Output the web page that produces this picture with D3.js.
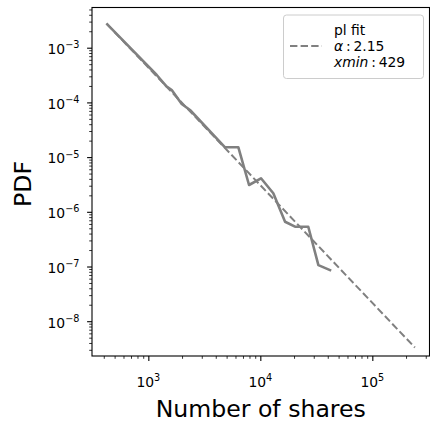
<!DOCTYPE html>
<html><head><meta charset="utf-8">
<script src="https://cdn.jsdelivr.net/npm/d3@7"></script>
<style>
body{margin:0;background:#fff;}
text{font-family:"DejaVu Sans",sans-serif;}
</style></head>
<body><svg id="c" width="430" height="427"></svg>
<script>
// empirical PDF (number of shares, pdf)
const shares = [430, 1189, 1298, 1439, 1618, 1987, 2355, 4842, 6367, 7930, 10140, 13060, 16630, 20400, 26800, 33000, 41900];
const pdf = [2.68e-3, 3.17e-4, 2.57e-4, 2.0e-4, 1.69e-4, 9.35e-5, 7.26e-5, 1.51e-5, 1.51e-5, 3.09e-6, 4.1e-6, 2.18e-6, 6.59e-7, 5.34e-7, 5.34e-7, 1.06e-7, 8.6e-8];
// power-law fit line endpoints
const fitX = [429, 240000];
const fitY = [2.68e-3, 3.3e-9];
const xMajor = [1e3, 1e4, 1e5];
const xMajorExp = ["3", "4", "5"];
const yMajor = [1e-3, 1e-4, 1e-5, 1e-6, 1e-7, 1e-8];
const yMajorExp = ["\u22123", "\u22124", "\u22125", "\u22126", "\u22127", "\u22128"];
const legendLines = ["pl fit", "\u03b1", "xmin"];
const alpha = "2.15", xmin = "429";

const svg = d3.select("#c");
const L = 92, T = 7.5, R = 429.5, B = 356;
const x = d3.scaleLog().domain([Math.pow(10, 2.497), Math.pow(10, 5.515)]).range([L, R + 0.5]);
const y = d3.scaleLog().domain([Math.pow(10, -8.636), Math.pow(10, -2.265)]).range([B, T]);

function minors(lo, hi) {
  const out = [];
  for (let e = Math.floor(Math.log10(lo)); e <= Math.ceil(Math.log10(hi)); e++)
    for (let m = 2; m <= 9; m++) { const v = m * Math.pow(10, e); if (v >= lo && v <= hi) out.push(v); }
  return out;
}
const xMin = minors(...x.domain()), yMin = minors(...y.domain());

const g = svg.append("g");
// minor ticks
g.append("g").attr("transform", `translate(0,${B})`)
  .call(d3.axisBottom(x).tickValues(xMin).tickSize(2.8).tickFormat(""))
  .call(s => { s.select(".domain").remove(); s.selectAll("line").attr("stroke", "#000").attr("stroke-width", 0.8); });
g.append("g").attr("transform", `translate(${L},0)`)
  .call(d3.axisLeft(y).tickValues(yMin).tickSize(2.8).tickFormat(""))
  .call(s => { s.select(".domain").remove(); s.selectAll("line").attr("stroke", "#000").attr("stroke-width", 0.8); });
// major ticks
const xa = g.append("g").attr("transform", `translate(0,${B})`)
  .call(d3.axisBottom(x).tickValues(xMajor).tickSize(4.9).tickFormat(""));
xa.select(".domain").remove(); xa.selectAll("line").attr("stroke", "#000").attr("stroke-width", 1.1);
const ya = g.append("g").attr("transform", `translate(${L},0)`)
  .call(d3.axisLeft(y).tickValues(yMajor).tickSize(4.9).tickFormat(""));
ya.select(".domain").remove(); ya.selectAll("line").attr("stroke", "#000").attr("stroke-width", 1.1);

// tick labels
xMajor.forEach((v, i) => {
  const t = svg.append("text").attr("x", x(v)).attr("y", 387).attr("text-anchor", "middle")
    .attr("font-size", 13.9).attr("fill", "#000");
  t.append("tspan").text("10");
  t.append("tspan").attr("dy", -5.8).attr("font-size", 9.7).text(xMajorExp[i]);
});
yMajor.forEach((v, i) => {
  const t = svg.append("text").attr("x", 79.5).attr("y", y(v) + 6.3).attr("text-anchor", "end")
    .attr("font-size", 13.9).attr("fill", "#000");
  t.append("tspan").text("10");
  t.append("tspan").attr("dy", -5.8).attr("font-size", 9.7).text(yMajorExp[i]);
});

// clip
svg.append("clipPath").attr("id", "clip").append("rect").attr("x", L).attr("y", T).attr("width", R - L).attr("height", B - T);
const line = d3.line().x(d => x(d[0])).y(d => y(d[1]));
const pg = svg.append("g").attr("clip-path", "url(#clip)");
pg.append("path").datum(shares.map((s, i) => [s, pdf[i]])).attr("d", line)
  .attr("fill", "none").attr("stroke", "#808080").attr("stroke-width", 2.6).attr("stroke-linejoin", "round").attr("stroke-linecap", "square");
pg.append("path").datum(fitX.map((s, i) => [s, fitY[i]])).attr("d", line)
  .attr("fill", "none").attr("stroke", "#808080").attr("stroke-width", 2).attr("stroke-dasharray", "7.4,3.2");

// spines
svg.append("rect").attr("x", L).attr("y", T).attr("width", R - L).attr("height", B - T)
  .attr("fill", "none").attr("stroke", "#000").attr("stroke-width", 1.1);

// axis labels
svg.append("text").attr("x", (L + R) / 2).attr("y", 417).attr("text-anchor", "middle")
  .attr("font-size", 23.6).attr("fill", "#000").text("Number of shares");
svg.append("text").attr("transform", `translate(30.5,184) rotate(-90)`).attr("text-anchor", "middle")
  .attr("font-size", 23.6).attr("fill", "#000").text("PDF");

// legend
const lg = svg.append("g");
lg.append("rect").attr("x", 283.5).attr("y", 15).attr("width", 140).attr("height", 63.5).attr("rx", 3)
  .attr("fill", "#fff").attr("fill-opacity", 0.8).attr("stroke", "#cccccc").attr("stroke-width", 1);
lg.append("line").attr("x1", 290).attr("x2", 322).attr("y1", 46).attr("y2", 46)
  .attr("stroke", "#808080").attr("stroke-width", 2).attr("stroke-dasharray", "7.4,3.2");
lg.append("text").attr("x", 334).attr("y", 35).attr("font-size", 13.9).text(legendLines[0]);
const l2 = lg.append("text").attr("x", 334).attr("y", 51).attr("font-size", 13.9);
l2.append("tspan").attr("font-style", "italic").text(legendLines[1]);
l2.append("tspan").text("\u2009:\u2009" + alpha);
const l3 = lg.append("text").attr("x", 334).attr("y", 67).attr("font-size", 13.9);
l3.append("tspan").attr("font-style", "italic").text(legendLines[2]);
l3.append("tspan").text("\u2009:\u2009" + xmin);
</script></body></html>
